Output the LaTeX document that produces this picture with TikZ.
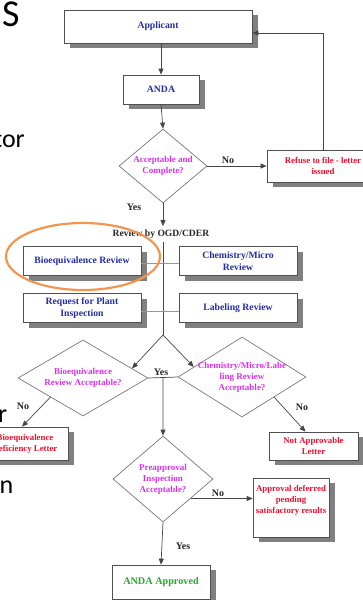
\documentclass[tikz,border=0pt]{standalone}
\usepackage{fontspec}
\newfontfamily\chartfont{Liberation Serif}
\newfontfamily\slidefont{Carlito}
\usetikzlibrary{shapes.geometric,shadows,arrows.meta,calc}

\definecolor{txtblue}{RGB}{35,45,165}
\definecolor{txtmag}{RGB}{215,50,235}
\definecolor{txtred}{RGB}{240,15,45}
\definecolor{txtgreen}{RGB}{40,170,40}
\definecolor{boxline}{RGB}{80,80,80}
\definecolor{diamline}{RGB}{120,120,120}
\definecolor{shadowgray}{RGB}{128,128,128}
\definecolor{connline}{RGB}{70,70,70}
\definecolor{tieline}{RGB}{150,150,150}
\definecolor{ringorange}{RGB}{240,150,80}

\tikzset{
  chartfont/.style={font=\chartfont\bfseries\fontsize{9}{11}\selectfont},
  bluefont/.style={font=\chartfont\bfseries\fontsize{9.7}{11.5}\selectfont, text=txtblue},
  redfont/.style={font=\chartfont\bfseries\fontsize{8.8}{11}\selectfont, text=txtred},
  greenfont/.style={font=\chartfont\bfseries\fontsize{10.2}{12}\selectfont, text=txtgreen},
  box/.style={rectangle, draw=boxline, line width=0.7pt, fill=white,
    inner sep=0pt, align=center,
    drop shadow={shadow xshift=6pt, shadow yshift=-5pt,
      fill=shadowgray, opacity=1}},
  decision/.style={diamond, draw=diamline, line width=0.7pt, fill=white,
    inner sep=0pt},
  dtext/.style={font=\chartfont\bfseries\fontsize{9}{11}\selectfont, text=txtmag, align=center},
  conn/.style={draw=connline, line width=0.7pt},
  arr/.style={conn, -{Triangle[length=6pt,width=5pt]}},
  tie/.style={draw=tieline, line width=0.7pt},
  flag/.style={font=\chartfont\bfseries\fontsize{10}{12}\selectfont, text=black!85},
  slidetext/.style={anchor=base east, inner sep=0, font=\slidefont\fontsize{26}{28}\selectfont},
}

\begin{document}
\begin{tikzpicture}[x=1pt,y=-1pt]
\useasboundingbox (0,0) rectangle (363,600);

% fragments of the slide text on the left
\node[anchor=base west, inner sep=0, font=\slidefont\fontsize{38}{40}\selectfont] (sS) at (2,26) {S};
\node[slidetext] (sTor) at (25,147) {tor};
\node[slidetext] (sR) at (7.5,422) {r};
\node[slidetext] (sN) at (13.5,493) {n};

% boxes
\node[box, bluefont, minimum width=188, minimum height=33] (app) at (158,26.5) {Applicant};
\node[box, bluefont, minimum width=76, minimum height=29] (anda) at (161,89.5) {ANDA};
\node[box, redfont, minimum width=112, minimum height=32] (refuse) at (323,166) {Refuse to file - letter\\issued};

\node[box, bluefont, minimum width=118, minimum height=29] (bio) at (82,261) {Bioequivalence Review};
\node[box, bluefont, minimum width=118, minimum height=29] (chem) at (238,261) {Chemistry/Micro\\Review};
\node[box, bluefont, minimum width=118, minimum height=29] (plant) at (82,308) {Request for Plant\\Inspection};
\node[box, bluefont, minimum width=118, minimum height=29] (label) at (238,308) {Labeling Review};

\node[box, redfont, minimum width=86, minimum height=33] (bdl) at (25,443.5) {Bioequivalence\\Deficiency Letter};
\node[box, redfont, minimum width=89, minimum height=28] (nal) at (313.5,446) {Not Approvable\\Letter};
\node[box, minimum width=76, minimum height=59,
  label={[anchor=north, yshift=-4pt, redfont, align=center]north:Approval deferred\\pending\\satisfactory results}]
  (defer) at (291,507.5) {};
\node[box, greenfont, minimum width=98, minimum height=34] (final) at (161,582) {ANDA Approved};

% decisions
\node[decision, minimum width=88, minimum height=74,
  label={[dtext]center:Acceptable and\\Complete?}] (d1) at (163,166) {};
\node[decision, minimum width=130, minimum height=76,
  label={[dtext]center:Bioequivalence\\Review Acceptable?}] (ld) at (83,378) {};
\node[decision, minimum width=128, minimum height=80,
  label={[dtext]center:Chemistry/Micro/Labe\\ling Review\\Acceptable?}] (rd) at (242,377) {};
\node[decision, minimum width=100, minimum height=86,
  label={[dtext]center:Preapproval\\Inspection\\Acceptable?}] (pd) at (163,479) {};

\node[font=\chartfont\bfseries\fontsize{9.6}{11}\selectfont, text=black!85] (review) at (161,234) {Review by OGD/CDER};

% connectors
\draw[arr] (app.south -| anda) -- (anda.north);
\draw[arr] (anda.south) -- (d1.north);
\draw[arr] (d1.east) -- (refuse.west);
\node[flag] (no1) at (228,160) {No};
\draw[arr] (refuse.north) |- ([yshift=-6.5pt]app.east);
\draw[arr] (d1.south) -- (review.north -| d1.south);
\node[flag] (yes1) at (134,207) {Yes};

\coordinate (split) at (163,335);
\draw[conn] (review.south -| d1.south) -- (split);
\draw[tie] ([yshift=-2pt]bio.east) -- ([yshift=-2pt]chem.west);
\draw[tie] ([yshift=-3pt]plant.east) -- ([yshift=-3pt]label.west);
\draw[arr] (split) -- ($(ld.north)!0.75!(ld.east)$);
\draw[arr] (split) -- ($(rd.north)!0.75!(rd.west)$);

\draw[conn] (ld.east) -- (rd.west);
\node[flag] (yes2) at (161,372) {Yes};
\draw[arr] ($(ld.east)!0.5!(rd.west)$) -- (pd.north);

\draw[arr] ($(ld.west)!0.5!(ld.south)$) -- ([xshift=-3pt]bdl.north);
\node[flag] (no2) at (23,406) {No};
\draw[arr] ($(rd.east)!0.5!(rd.south)$) -- ([xshift=-8pt]nal.north);
\node[flag] (no3) at (302,407) {No};

\coordinate (pdno) at ($(pd.east)!0.45!(pd.south)$);
\draw[arr] (pdno) -- (pdno -| defer.west);
\node[flag] (no4) at (218,493) {No};
\draw[arr] (pd.south) -- (final.north);
\node[flag] (yes3) at (183,546) {Yes};

% highlight ring
\draw[ringorange, line width=2.2pt] (83,256.5) ellipse [x radius=77, y radius=33.5];
\end{tikzpicture}
\end{document}
